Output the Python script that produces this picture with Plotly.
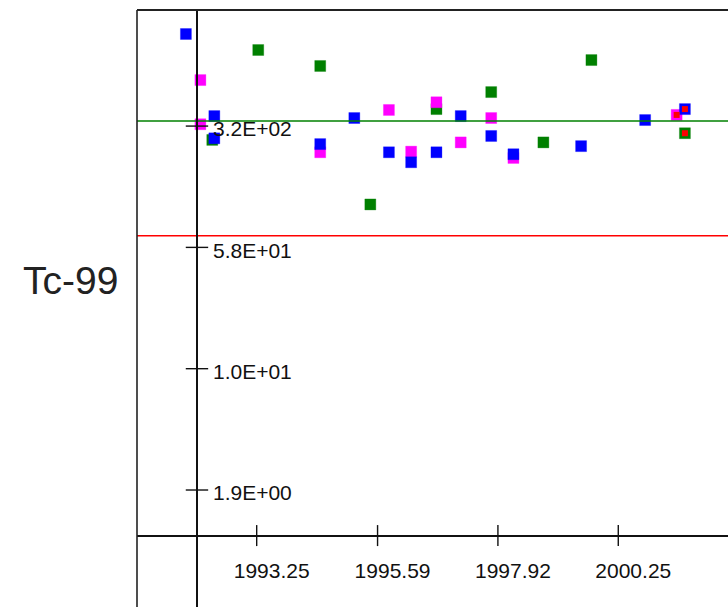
import math
import plotly.graph_objects as go

# ---- data ----
blue_x = [1991.88, 1992.43, 1992.43, 1994.48, 1995.14, 1995.81, 1996.24, 1996.73,
          1997.20, 1997.79, 1998.22, 1999.53, 2000.77, 2001.54]
blue_y = [1169, 368, 269, 248, 358, 221, 192, 221, 368, 278, 215, 241, 348, 406]

magenta_x = [1992.16, 1992.16, 1994.48, 1995.81, 1996.24, 1996.73, 1997.20, 1997.79,
             1998.22, 2001.38]
magenta_y = [611, 328, 221, 401, 223, 447, 254, 358, 204, 374]

green_x = [1992.39, 1993.28, 1994.48, 1995.45, 1996.73, 1997.79, 1998.80, 1999.73, 2001.54]
green_y = [263, 933, 745, 106, 406, 516, 254, 810, 289]

green_ref = 343.0
red_ref = 68.2

x_tickvals = [1993.25, 1995.59, 1997.92, 2000.25]
x_ticktext = ["1993.25", "1995.59", "1997.92", "2000.25"]
y_tickvals = [1.9, 10.49, 57.9, 319.6]
y_ticktext = ["1.9E+00", "1.0E+01", "5.8E+01", "3.2E+02"]

x_range = [1990.933, 2002.374]
y_range_log = [-0.4368, 3.2146]
x_cross = 1992.094   # where the vertical axis sits
y_cross = 1.0        # where the horizontal axis sits

label = "Tc-99"

# ---- figure ----
W, H = 728, 607
ML, MT = 137, 10

fig = go.Figure()

fig.add_trace(go.Scatter(x=green_x, y=green_y, mode="markers",
                         marker=dict(symbol="square", size=11, color="#008000",
                                     line=dict(width=0.6, color="rgba(0,128,0,0.5)"))))
fig.add_trace(go.Scatter(x=magenta_x, y=magenta_y, mode="markers",
                         marker=dict(symbol="square", size=11, color="#FF00FF",
                                     line=dict(width=0.6, color="rgba(255,0,255,0.5)"))))
fig.add_trace(go.Scatter(x=blue_x, y=blue_y, mode="markers",
                         marker=dict(symbol="square", size=11, color="#0000FF",
                                     line=dict(width=0.6, color="rgba(0,0,255,0.5)"))))
# latest measurement of each series flagged with a red centre
latest_x = [magenta_x[-1], blue_x[-1], green_x[-1]]
latest_y = [magenta_y[-1], blue_y[-1], green_y[-1]]
fig.add_trace(go.Scatter(x=latest_x, y=latest_y, mode="markers",
                         marker=dict(symbol="square", size=6, color="#FF0000")))

# reference lines
fig.add_trace(go.Scatter(x=x_range, y=[green_ref, green_ref], mode="lines",
                         line=dict(color="#008000", width=1.6)))
fig.add_trace(go.Scatter(x=x_range, y=[red_ref, red_ref], mode="lines",
                         line=dict(color="#FF0000", width=1.6)))

# crossing tick marks
fig.add_trace(go.Scatter(x=[x_cross] * len(y_tickvals), y=y_tickvals, mode="markers",
                         marker=dict(symbol="line-ew", size=16,
                                     line=dict(width=1.4, color="#111"))))
fig.add_trace(go.Scatter(x=x_tickvals, y=[y_cross] * len(x_tickvals), mode="markers",
                         marker=dict(symbol="line-ns", size=15,
                                     line=dict(width=1.4, color="#111"))))

x_pos = (x_cross - x_range[0]) / (x_range[1] - x_range[0])
y_pos = (math.log10(y_cross) - y_range_log[0]) / (y_range_log[1] - y_range_log[0])

tick_font = dict(family="Liberation Sans, Arial, sans-serif", size=21, color="#111")

fig.update_layout(
    width=W, height=H,
    margin=dict(l=ML, r=0, t=MT, b=0, pad=0),
    paper_bgcolor="white", plot_bgcolor="white",
    showlegend=False,
    xaxis=dict(range=x_range, anchor="free", position=y_pos, side="bottom",
               showline=True, linecolor="#111", linewidth=1.6,
               showgrid=False, zeroline=False, ticks="",
               tickvals=x_tickvals, ticktext=x_ticktext, tickfont=tick_font,
               ticklabelstandoff=16, ticklabelshift=15),
    yaxis=dict(type="log", range=y_range_log, anchor="free", position=x_pos, side="right",
               showline=True, linecolor="#111", linewidth=1.6,
               showgrid=False, zeroline=False, ticks="",
               tickvals=y_tickvals, ticktext=y_ticktext, tickfont=tick_font,
               ticklabelstandoff=11, ticklabelshift=3),
    shapes=[
        dict(type="line", xref="paper", yref="paper", x0=0, x1=1, y0=1, y1=1,
             line=dict(color="#222", width=2)),
        dict(type="line", xref="paper", yref="paper", x0=0, x1=0, y0=0, y1=1,
             line=dict(color="#222", width=1.6)),
    ],
    annotations=[
        dict(text=label, xref="paper", yref="paper",
             x=(70 - ML) / (W - ML), y=(H - 280) / (H - MT),
             xanchor="center", yanchor="middle", showarrow=False,
             font=dict(family="Liberation Sans, Arial, sans-serif", size=39, color="#222")),
    ],
)

fig.write_html("out.html")
